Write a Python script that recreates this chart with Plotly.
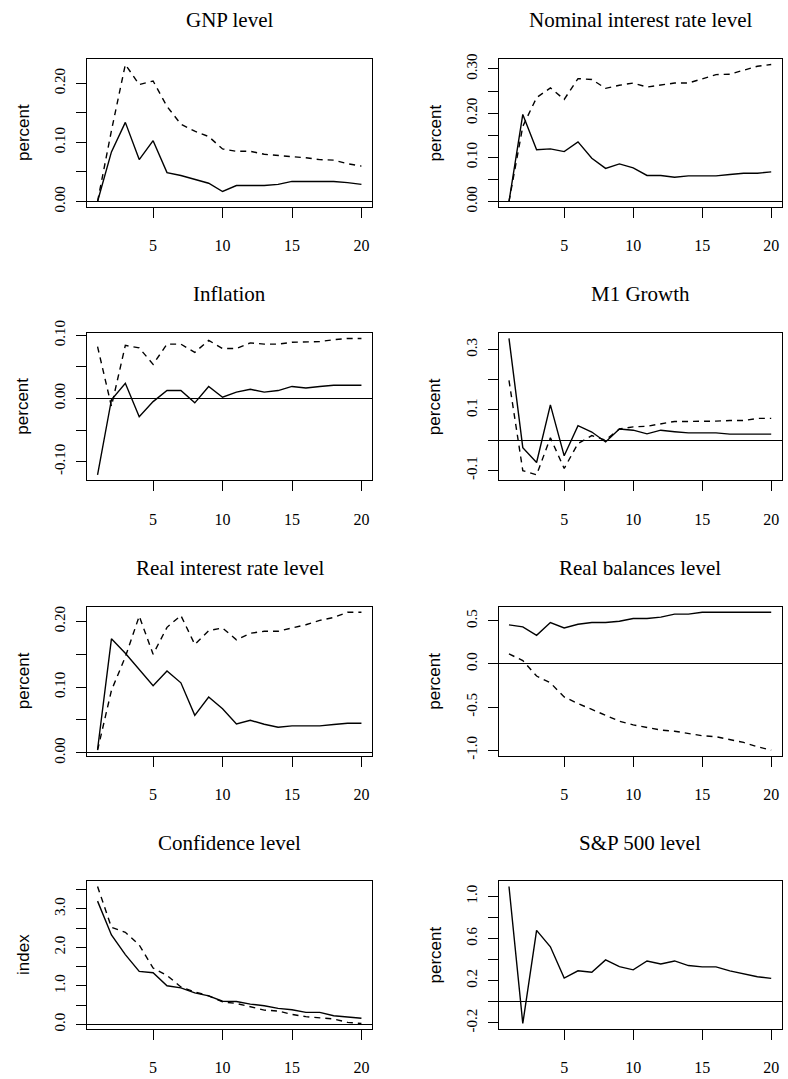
import plotly.graph_objects as go

# ---------------- data ----------------
horizon = list(range(1, 21))

titles = ["GNP level", "Nominal interest rate level", "Inflation", "M1 Growth",
          "Real interest rate level", "Real balances level", "Confidence level", "S&P 500 level"]
ylabels = ["percent", "percent", "percent", "percent", "percent", "percent", "index", "percent"]

gnp_solid = [0, 0.084, 0.134, 0.071, 0.103, 0.049, 0.044, 0.037, 0.031, 0.017,
             0.027, 0.027, 0.027, 0.029, 0.034, 0.034, 0.034, 0.034, 0.032, 0.029]
gnp_dashed = [0, 0.12, 0.232, 0.198, 0.204, 0.161, 0.131, 0.119, 0.110, 0.089,
              0.085, 0.085, 0.080, 0.078, 0.077, 0.074, 0.071, 0.070, 0.064, 0.060]

nom_solid = [0, 0.197, 0.117, 0.119, 0.113, 0.135, 0.098, 0.075, 0.085, 0.076,
             0.059, 0.059, 0.055, 0.058, 0.058, 0.058, 0.061, 0.064, 0.064, 0.067]
nom_dashed = [0, 0.17, 0.235, 0.257, 0.231, 0.278, 0.276, 0.256, 0.263, 0.268,
              0.259, 0.263, 0.268, 0.268, 0.278, 0.287, 0.288, 0.297, 0.306, 0.310]

inf_solid = [-0.121, -0.002, 0.024, -0.029, -0.005, 0.0125, 0.0125, -0.007, 0.019, 0.002,
             0.010, 0.0145, 0.010, 0.0125, 0.019, 0.0165, 0.019, 0.021, 0.021, 0.021]
inf_dashed = [0.082, -0.0125, 0.084, 0.080, 0.054, 0.086, 0.086, 0.073, 0.092, 0.079,
              0.079, 0.088, 0.086, 0.086, 0.089, 0.090, 0.090, 0.093, 0.095, 0.095]

m1_solid = [0.337, -0.025, -0.074, 0.117, -0.052, 0.048, 0.027, -0.006, 0.037, 0.033,
            0.021, 0.033, 0.028, 0.024, 0.024, 0.024, 0.020, 0.020, 0.020, 0.020]
m1_dashed = [0.198, -0.101, -0.115, 0.008, -0.094, -0.011, 0.015, 0.0, 0.037, 0.044,
             0.046, 0.055, 0.062, 0.062, 0.062, 0.063, 0.065, 0.065, 0.072, 0.072]

real_solid = [0.005, 0.1735, 0.1515, 0.126, 0.102, 0.1245, 0.1065, 0.057, 0.085, 0.067,
              0.044, 0.0495, 0.0435, 0.039, 0.041, 0.041, 0.041, 0.043, 0.045, 0.045]
real_dashed = [0.004, 0.095, 0.146, 0.208, 0.150, 0.191, 0.209, 0.165, 0.186, 0.190,
               0.172, 0.182, 0.185, 0.185, 0.190, 0.195, 0.2015, 0.206, 0.214, 0.214]

bal_solid = [0.453, 0.43, 0.332, 0.48, 0.418, 0.461, 0.48, 0.48, 0.496, 0.527,
             0.527, 0.543, 0.578, 0.578, 0.60, 0.60, 0.60, 0.60, 0.60, 0.60]
bal_dashed = [0.117, 0.039, -0.14, -0.219, -0.383, -0.46, -0.527, -0.594, -0.664, -0.707,
              -0.734, -0.766, -0.78, -0.805, -0.832, -0.844, -0.875, -0.91, -0.96, -1.0]

conf_solid = [3.20, 2.32, 1.81, 1.375, 1.34, 1.0, 0.945, 0.816, 0.739, 0.60,
              0.593, 0.524, 0.481, 0.412, 0.378, 0.309, 0.309, 0.223, 0.189, 0.155]
conf_dashed = [3.58, 2.52, 2.39, 2.06, 1.46, 1.27, 0.97, 0.84, 0.74, 0.584,
               0.541, 0.455, 0.369, 0.344, 0.258, 0.198, 0.172, 0.137, 0.05, 0.02]

sp_solid = [1.094, -0.206, 0.678, 0.522, 0.225, 0.294, 0.281, 0.397, 0.334, 0.303,
            0.3875, 0.359, 0.3875, 0.344, 0.331, 0.331, 0.294, 0.269, 0.2375, 0.222]
sp_dashed = None

x_tickvals = [5, 10, 15, 20]
x_ticktext = ["5", "10", "15", "20"]

y_tickvals = [
    [0, 0.05, 0.10, 0.15, 0.20],
    [0, 0.05, 0.10, 0.15, 0.20, 0.25, 0.30],
    [-0.10, -0.05, 0, 0.05, 0.10],
    [-0.1, 0, 0.1, 0.2, 0.3],
    [0, 0.05, 0.10, 0.15, 0.20],
    [-1.0, -0.5, 0, 0.5],
    [0, 0.5, 1.0, 1.5, 2.0, 2.5, 3.0, 3.5],
    [-0.2, 0, 0.2, 0.4, 0.6, 0.8, 1.0],
]
y_ticktext = [
    ["0.00", "", "0.10", "", "0.20"],
    ["0.00", "", "0.10", "", "0.20", "", "0.30"],
    ["-0.10", "", "0.00", "", "0.10"],
    ["-0.1", "", "0.1", "", "0.3"],
    ["0.00", "", "0.10", "", "0.20"],
    ["-1.0", "-0.5", "0.0", "0.5"],
    ["0.0", "", "1.0", "", "2.0", "", "3.0", ""],
    ["-0.2", "", "0.2", "", "0.6", "", "1.0"],
]

series = [
    (gnp_solid, gnp_dashed), (nom_solid, nom_dashed),
    (inf_solid, inf_dashed), (m1_solid, m1_dashed),
    (real_solid, real_dashed), (bal_solid, bal_dashed),
    (conf_solid, conf_dashed), (sp_solid, sp_dashed),
]

# ---------------- layout geometry (pixels) ----------------
W, H = 788, 1079
col_x = [(87, 372), (498.5, 781.7)]
row_y = [(59, 207), (333, 480.3), (606.7, 755.7), (881, 1029)]

SERIF = "Liberation Serif, Times New Roman, serif"
SANS = "Liberation Sans, Arial, sans-serif"

fig = go.Figure()
layout = dict(
    template="none",
    width=W, height=H, autosize=False,
    margin=dict(l=0, r=0, t=0, b=0, pad=0, autoexpand=False),
    paper_bgcolor="white", plot_bgcolor="white",
    showlegend=False,
    annotations=[],
)

xpad = 0.04 * (horizon[-1] - horizon[0])
xrange_ = [horizon[0] - xpad, horizon[-1] + xpad]

for i, (solid, dashed) in enumerate(series):
    k = i + 1
    xs = "x" if k == 1 else f"x{k}"
    ys = "y" if k == 1 else f"y{k}"
    xa = "xaxis" if k == 1 else f"xaxis{k}"
    ya = "yaxis" if k == 1 else f"yaxis{k}"
    c = i % 2
    r = i // 2
    x0, x1 = col_x[c]
    y0, y1 = row_y[r]

    vals = list(solid) + (list(dashed) if dashed else [])
    lo, hi = min(vals), max(vals)
    pad = 0.04 * (hi - lo)
    yrange = [lo - pad, hi + pad]

    if dashed is not None:
        fig.add_trace(go.Scatter(x=horizon, y=dashed, mode="lines", xaxis=xs, yaxis=ys,
                                 line=dict(color="black", width=1.4, dash="6px,5px"),
                                 hoverinfo="skip"))
    fig.add_trace(go.Scatter(x=horizon, y=solid, mode="lines", xaxis=xs, yaxis=ys,
                             line=dict(color="black", width=1.4), hoverinfo="skip"))

    layout[xa] = dict(
        domain=[x0 / W, x1 / W], range=xrange_, anchor=ys, automargin=False,
        tickmode="array", tickvals=x_tickvals, ticktext=x_ticktext,
        ticks="outside", ticklen=10, tickwidth=1, tickcolor="black",
        showline=True, linecolor="black", linewidth=1, mirror=True,
        showgrid=False, zeroline=False,
        tickfont=dict(family=SERIF, size=16, color="black"),
        ticklabelstandoff=14,
    )
    layout[ya] = dict(
        domain=[1 - y1 / H, 1 - y0 / H], range=yrange, anchor=xs, automargin=False,
        tickmode="array", tickvals=y_tickvals[i], ticktext=y_ticktext[i],
        tickangle=-90,
        ticks="outside", ticklen=10, tickwidth=1, tickcolor="black",
        showline=True, linecolor="black", linewidth=1, mirror=True,
        showgrid=False, zeroline=True, zerolinecolor="black", zerolinewidth=1,
        tickfont=dict(family=SERIF, size=15, color="black"),
        ticklabelstandoff=5,
    )
    layout["annotations"].append(dict(
        text=titles[i], xref="paper", yref="paper",
        x=(x0 + x1) / 2 / W, y=1 - (y0 - 38.5) / H,
        xanchor="center", yanchor="middle", showarrow=False,
        font=dict(family=SERIF, size=21, color="black"),
    ))
    layout["annotations"].append(dict(
        text=ylabels[i], xref="paper", yref="paper",
        x=(x0 - 64) / W, y=1 - ((y0 + y1) / 2) / H,
        xanchor="center", yanchor="middle", showarrow=False, textangle=-90,
        font=dict(family=SANS, size=17, color="black"),
    ))

fig.update_layout(**layout)
fig.write_html(
    "out.html",
    config={"responsive": False, "displayModeBar": False},
    post_script="document.body.style.margin='0';document.body.style.overflow='hidden';",
)
